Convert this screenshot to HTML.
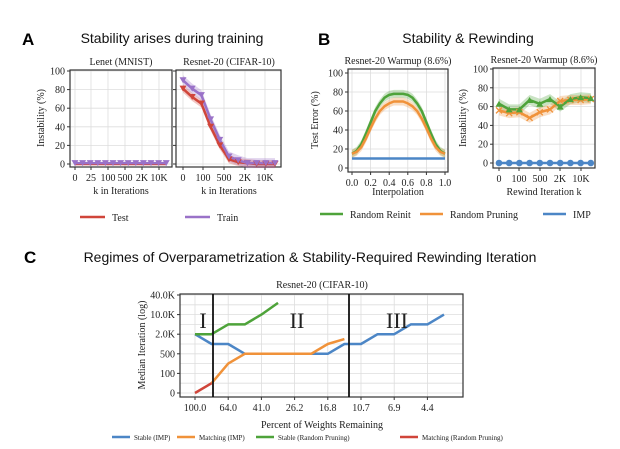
<!DOCTYPE html>
<html><head><meta charset="utf-8"><style>
body{margin:0;background:#fff}
svg{display:block}
.t{font-family:"Liberation Serif",serif;font-size:10px;fill:#222}
.h{font-family:"Liberation Sans",sans-serif;font-size:14px;fill:#111}
.L{font-family:"Liberation Sans",sans-serif;font-size:17px;font-weight:bold;fill:#000}
</style></head><body>
<svg id="s" width="620" height="449" viewBox="0 0 620 449" xmlns="http://www.w3.org/2000/svg">
<text class="L" x="22" y="45">A</text>
<text class="h" x="172" y="43" text-anchor="middle">Stability arises during training</text>
<text class="L" x="318" y="45">B</text>
<text class="h" x="468" y="43" text-anchor="middle">Stability &amp; Rewinding</text>
<text class="L" x="24" y="263">C</text>
<text class="h" x="310" y="262" text-anchor="middle">Regimes of Overparametrization &amp; Stability-Required Rewinding Iteration</text>
</svg>
<script>
// Panel A
const aLeftTest=[0,0,0,0,0,0,0,0,0,0,0,0,0];
const aLeftTrain=[1,1,1,1,1,1,1,1,1,1,1,1,1];
const aLeftTicks=["0","25","100","500","2K","10K"];
const aRightTest=[81,72,65,40,20,5,2,1,0,0,0];
const aRightTrain=[90,81,74,48,26,8,4,1,1,1,1];
const aRightTicks=["0","100","500","2K","10K"];
const aYTicks=[0,20,40,60,80,100];
// Panel B
const bInterp=[0,0.05,0.1,0.15,0.2,0.25,0.3,0.35,0.4,0.45,0.5,0.55,0.6,0.65,0.7,0.75,0.8,0.85,0.9,0.95,1];
const bReinit=[15,18,25,36,48,60,68,74,77,78,78,78,77,74,68,60,48,36,25,18,15];
const bPruning=[15,17,22,31,42,52,60,65,68,70,70,70,68,65,60,52,42,31,22,17,15];
const bImp=[10,10,10,10,10,10,10,10,10,10,10,10,10,10,10,10,10,10,10,10,10];
const bXTicks=[0,0.2,0.4,0.6,0.8,1.0];
const bRwReinit=[63,57,57,67,63,68,60,68,70,69];
const bRwPruning=[56,53,54,48,54,57,66,67,67,68];
const bRwImp=[0,0,0,0,0,0,0,0,0,0];
const bRwTicks=["0","100","500","2K","10K"];
// Panel C (values as log-level index: 0=0,1=100,2=500,3=2K,4=10K,5=40K)
const cXLabels=["100.0","64.0","41.0","26.2","16.8","10.7","6.9","4.4"];
const cYLabels=["0","100","500","2.0K","10.0K","40.0K"];
const cStableImp=[3,2.5,2.5,2,2,2,2,2,2,2.5,2.5,3,3,3.5,3.5,4];
const cMatchImp=[null,0.5,1.5,2,2,2,2,2,2.5,2.75];
const cStableRand=[3,3,3.5,3.5,4,4.6];
const cMatchRand=[0,0.5];

const S=document.getElementById('s');const NS="http://www.w3.org/2000/svg";
function mk(tag,at,txt){const e=document.createElementNS(NS,tag);for(const k in at)e.setAttribute(k,at[k]);if(txt!=null)e.textContent=txt;S.appendChild(e);return e;}
function frame(x0,y0,x1,y1,name){const r=mk('rect',{x:x0,y:y0,width:x1-x0,height:y1-y0,fill:'none',stroke:'#333','stroke-width':1.2});

}
function grid(x0,y0,x1,y1,xs,ys){xs.forEach(x=>{const l=mk('line',{x1:x,x2:x,y1:y0,y2:y1,stroke:'#ddd','stroke-width':0.8});

});
ys.forEach(y=>{const l=mk('line',{x1:x0,x2:x1,y1:y,y2:y,stroke:'#ddd','stroke-width':0.8});

});}
function text(x,y,s,anchor,name,cls,extra){const t=mk('text',Object.assign({x:x,y:y,'text-anchor':anchor||'middle',class:cls||'t'},extra||{}),s);

return t;}
function line(pts,color,name,w){const p=mk('polyline',{points:pts.map(q=>q.join(',')).join(' '),fill:'none',stroke:color,'stroke-width':w||2.5,'stroke-linejoin':'round'});

}
function band(pts,d,color,name){const up=pts.map(q=>[q[0],q[1]-d]),dn=pts.map(q=>[q[0],q[1]+d]).reverse();const p=mk('polygon',{points:up.concat(dn).map(q=>q.join(',')).join(' '),fill:color,opacity:0.3});

}
function marker(x,y,type,color,name){let e;
if(type==='tdown')e=mk('polygon',{points:`${x-3.5},${y-3} ${x+3.5},${y-3} ${x},${y+3}`,fill:color});
else if(type==='tup')e=mk('polygon',{points:`${x-3.5},${y+3} ${x+3.5},${y+3} ${x},${y-3}`,fill:color});
else if(type==='x')e=mk('path',{d:`M${x-3},${y-3}L${x+3},${y+3}M${x-3},${y+3}L${x+3},${y-3}`,stroke:color,'stroke-width':1.3});
else e=mk('circle',{cx:x,cy:y,r:3.3,fill:color});

}
function yticks(x0,vals,fy,labels){vals.forEach(v=>{const t=mk('line',{x1:x0-3,x2:x0,y1:fy(v),y2:fy(v),stroke:'#333'});


if(labels)text(x0-5,fy(v)+3.5,String(v),'end','y-tick-label');});}
function xticks(y0,xs,labels){xs.forEach((x,i)=>{const t=mk('line',{x1:x,x2:x,y1:y0,y2:y0+3,stroke:'#333'});


text(x,y0+14,labels[i],'middle','x-tick-label');});}
function legend(x,y,color,label,w){const l=mk('line',{x1:x,x2:x+w,y1:y,y2:y,stroke:color,'stroke-width':2.5});


text(x+w+7,y+4,label,'start','legend-entry');}
const RED='#d0453a',PUR='#9a72c8',GRN='#4ea33a',ORG='#f0923a',BLU='#4c86c6';

// ---- Panel A left
{const x0=70,x1=172,y0=70,y1=167;const fy=v=>164-0.93*v;const fx=i=>75+i*7.6;
const tx=[75,91,108,125,142,159];
grid(x0,y0,x1,y1,tx,aYTicks.map(fy));frame(x0,y0,x1,y1,'lenet-plot-frame');
yticks(x0,aYTicks,fy,true);xticks(y1,tx,aLeftTicks);
line(aLeftTest.map((v,i)=>[fx(i),fy(v)]),RED,'lenet-test-line');
line(aLeftTrain.map((v,i)=>[fx(i),fy(v)]),PUR,'lenet-train-line');
aLeftTrain.forEach((v,i)=>marker(fx(i),fy(v),'tdown',PUR,'lenet-train-marker'));
text(121,65,'Lenet (MNIST)','middle','lenet-subtitle');
text(121,194,'k in Iterations','middle','x-axis-title');
text(44,118,'Instability (%)','middle','y-axis-title','t',{transform:'rotate(-90 44 118)'});}
// ---- Panel A right
{const x0=176,x1=281,y0=70,y1=167;const fy=v=>164-0.93*v;const fx=i=>183+i*9.2;
const tx=[183,203,224,245,265];
grid(x0,y0,x1,y1,tx,aYTicks.map(fy));frame(x0,y0,x1,y1,'resnet-plot-frame');
yticks(x0,aYTicks,fy,false);xticks(y1,tx,aRightTicks);
const pt=aRightTest.map((v,i)=>[fx(i),fy(v)]),pr=aRightTrain.map((v,i)=>[fx(i),fy(v)]);
band(pt,4,RED,'test-band');band(pr,5,PUR,'train-band');
line(pt,RED,'resnet-test-line');line(pr,PUR,'resnet-train-line');
aRightTest.forEach((v,i)=>marker(fx(i),fy(v),'tdown',RED,'test-marker'));
aRightTrain.forEach((v,i)=>marker(fx(i),fy(v),'tdown',PUR,'train-marker'));
text(229,65,'Resnet-20 (CIFAR-10)','middle','resnet-subtitle');
text(229,194,'k in Iterations','middle','x-axis-title');
legend(80,217,RED,'Test',25);legend(185,217,PUR,'Train',25);}
// ---- Panel B left
{const x0=348,x1=448,y0=69,y1=172;const fy=v=>168-0.95*v;const fx=t=>352+t*93;
grid(x0,y0,x1,y1,bXTicks.map(fx),aYTicks.map(fy));frame(x0,y0,x1,y1,'interp-plot-frame');
yticks(x0,aYTicks,fy,true);xticks(y1,bXTicks.map(fx),bXTicks.map(v=>v.toFixed(1)));
const g=bInterp.map((t,i)=>[fx(t),fy(bReinit[i])]),o=bInterp.map((t,i)=>[fx(t),fy(bPruning[i])]),b=bInterp.map((t,i)=>[fx(t),fy(bImp[i])]);
band(g,4,GRN,'reinit-band');band(o,4,ORG,'pruning-band');
line(g,GRN,'reinit-interp-line');line(o,ORG,'pruning-interp-line');line(b,BLU,'imp-interp-line');
text(398,64,'Resnet-20 Warmup (8.6%)','middle','interp-subtitle');
text(398,195,'Interpolation','middle','x-axis-title');
text(318,120,'Test Error (%)','middle','y-axis-title','t',{transform:'rotate(-90 318 120)'});}
// ---- Panel B right
{const x0=493,x1=595,y0=68,y1=168;const fy=v=>163-0.94*v;const fx=i=>499+i*10.2;
const tx=[499,519,540,560,581];
grid(x0,y0,x1,y1,tx,aYTicks.map(fy));frame(x0,y0,x1,y1,'rewind-plot-frame');
yticks(x0,aYTicks,fy,true);xticks(y1,tx,bRwTicks);
const g=bRwReinit.map((v,i)=>[fx(i),fy(v)]),o=bRwPruning.map((v,i)=>[fx(i),fy(v)]),b=bRwImp.map((v,i)=>[fx(i),fy(v)]);
band(g,5,GRN,'reinit-rw-band');band(o,5,ORG,'pruning-rw-band');
line(o,ORG,'pruning-rw-line');line(g,GRN,'reinit-rw-line');line(b,BLU,'imp-rw-line');
bRwPruning.forEach((v,i)=>marker(fx(i),fy(v),'x',ORG,'pruning-marker'));
bRwReinit.forEach((v,i)=>marker(fx(i),fy(v),'tup',GRN,'reinit-marker'));
bRwImp.forEach((v,i)=>marker(fx(i),fy(v),'c',BLU,'imp-marker'));
text(544,63,'Resnet-20 Warmup (8.6%)','middle','rewind-subtitle');
text(544,195,'Rewind Iteration k','middle','x-axis-title');
text(466,118,'Instability (%)','middle','y-axis-title','t',{transform:'rotate(-90 466 118)'});
legend(320,214,GRN,'Random Reinit',23);legend(420,214,ORG,'Random Pruning',23);legend(543,214,BLU,'IMP',23);}
// ---- Panel C
{const x0=180,x1=463,y0=294,y1=397;const fy=l=>393-19.6*l;const fx=i=>195+i*16.6;
const tx=cXLabels.map((s,i)=>fx(2*i));const lv=cYLabels.map((s,i)=>i);
const minor=[];for(let i=0;i<5;i++)minor.push(fy(i+0.5));
grid(x0,y0,x1,y1,tx,lv.map(fy).concat(minor));frame(x0,y0,x1,y1,'regimes-plot-frame');
lv.forEach(l=>{const t=mk('line',{x1:x0-3,x2:x0,y1:fy(l),y2:fy(l),stroke:'#333'});


text(x0-5,fy(l)+3.5,cYLabels[l],'end','y-tick-label');});
xticks(y1,tx,cXLabels);
const P=a=>a.map((v,i)=>v==null?null:[fx(i),fy(v)]).filter(q=>q);
line(P(cStableImp),BLU,'stable-imp-line');line(P(cMatchImp),ORG,'matching-imp-line');
line(P(cStableRand),GRN,'stable-random-line');line(P(cMatchRand),RED,'matching-random-line');
[213,349].forEach(x=>{const l=mk('line',{x1:x,x2:x,y1:y0,y2:y1,stroke:'#111','stroke-width':1.8});

});
text(203,328,'I','middle','regime-i-label','t',{style:'font-size:22px'});
text(297,328,'II','middle','regime-ii-label','t',{style:'font-size:22px'});
text(397,328,'III','middle','regime-iii-label','t',{style:'font-size:22px'});
text(322,288,'Resnet-20 (CIFAR-10)','middle','regimes-subtitle');
text(322,428,'Percent of Weights Remaining','middle','x-axis-title');
text(145,345,'Median Iteration (log)','middle','y-axis-title','t',{transform:'rotate(-90 145 345)'});
const lg=[[112,BLU,'Stable (IMP)'],[177,ORG,'Matching (IMP)'],[256,GRN,'Stable (Random Pruning)'],[400,RED,'Matching (Random Pruning)']];
lg.forEach(a=>{const l=mk('line',{x1:a[0],x2:a[0]+18,y1:437,y2:437,stroke:a[1],'stroke-width':2.5});


text(a[0]+22,440,a[2],'start','legend-entry','t',{style:'font-size:7px'});});}
</script>
</body></html>
